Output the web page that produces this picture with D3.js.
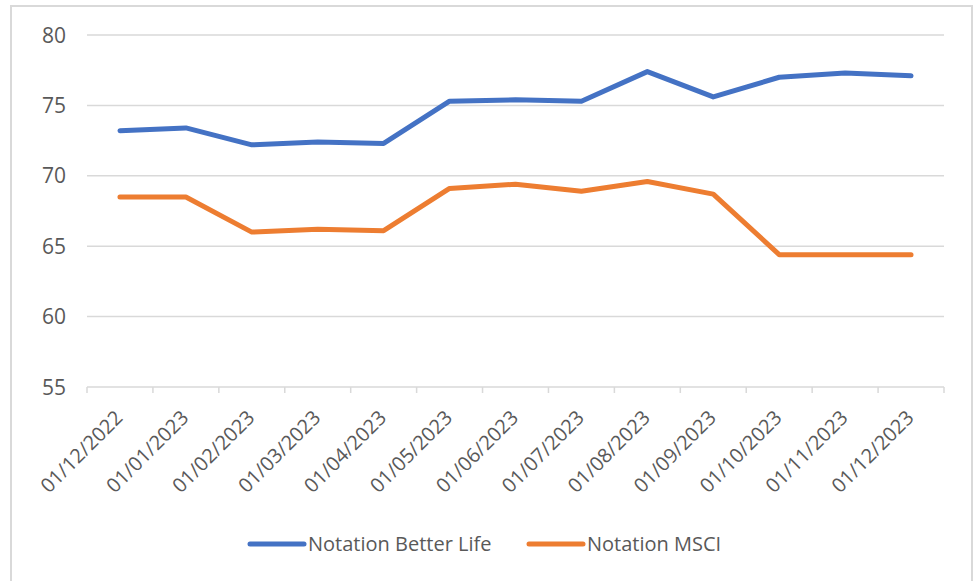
<!DOCTYPE html>
<html>
<head>
<meta charset="utf-8">
<script src="https://cdn.jsdelivr.net/npm/d3@7"></script>
<style>
  body { margin: 0; background: #fff; }
  text { font-family: "Open Sans", "Liberation Sans", sans-serif; fill: #595959; }
</style>
</head>
<body>
<div id="chart-area"></div>
<script>
let dates = ["01/12/2022", "01/01/2023", "01/02/2023", "01/03/2023", "01/04/2023", "01/05/2023",
  "01/06/2023", "01/07/2023", "01/08/2023", "01/09/2023", "01/10/2023", "01/11/2023", "01/12/2023"];
let betterLife = [73.2, 73.4, 72.2, 72.4, 72.3, 75.3, 75.4, 75.3, 77.4, 75.6, 77.0, 77.3, 77.1];
let msci = [68.5, 68.5, 66.0, 66.2, 66.1, 69.1, 69.4, 68.9, 69.6, 68.7, 64.4, 64.4, 64.4];
let yTicks = [55, 60, 65, 70, 75, 80];

let series = [
  { name: "Notation Better Life", values: betterLife, color: "#4472C4" },
  { name: "Notation MSCI", values: msci, color: "#ED7D31" }
];

let width = 974,
height = 581;

let svg = d3.select("#chart-area").append("svg")
  .attr("width", width)
  .attr("height", height);

// chart border
svg.append("rect")
  .attr("x", 11).attr("y", 6)
  .attr("width", 961).attr("height", 600)
  .attr("fill", "none")
  .attr("stroke", "#d9d9d9")
  .attr("stroke-width", 2);

let x = d3.scaleBand()
  .domain(dates)
  .range([87, 944]);

let y = d3.scaleLinear()
  .domain([55, 80])
  .range([387, 35]);

// gridlines
svg.selectAll(".grid")
  .data(yTicks.slice(1))
  .enter().append("line")
  .attr("x1", 87).attr("x2", 944)
  .attr("y1", d => y(d)).attr("y2", d => y(d))
  .attr("stroke", "#d9d9d9")
  .attr("stroke-width", 1.5);

// y labels
svg.selectAll(".ylab")
  .data(yTicks)
  .enter().append("text")
  .attr("x", 66)
  .attr("y", d => y(d))
  .attr("dy", "0.36em")
  .attr("text-anchor", "end")
  .style("font-size", "21px")
  .text(d => d);

// x axis line + ticks between categories
svg.append("line")
  .attr("x1", 87).attr("x2", 944)
  .attr("y1", y(55)).attr("y2", y(55))
  .attr("stroke", "#d9d9d9")
  .attr("stroke-width", 1.5);

let tickPos = dates.map(d => x(d)).concat([x(dates[dates.length - 1]) + x.bandwidth()]);
svg.selectAll(".tick")
  .data(tickPos)
  .enter().append("line")
  .attr("x1", d => d).attr("x2", d => d)
  .attr("y1", y(55)).attr("y2", y(55) + 6)
  .attr("stroke", "#d9d9d9")
  .attr("stroke-width", 1.5);

// x labels rotated
svg.selectAll(".xlab")
  .data(dates)
  .enter().append("text")
  .attr("text-anchor", "end")
  .style("font-size", "20px")
  .attr("transform", d => "translate(" + (x(d) + x.bandwidth() / 2 + 4) + "," + (y(55) + 32) + ") rotate(-45)")
  .text(d => d);

// lines
let line = d3.line()
  .x((d, i) => x(dates[i]) + x.bandwidth() / 2)
  .y(d => y(d));

svg.selectAll(".series")
  .data(series)
  .enter().append("path")
  .attr("d", d => line(d.values))
  .attr("fill", "none")
  .attr("stroke", d => d.color)
  .attr("stroke-width", 5)
  .attr("stroke-linecap", "round")
  .attr("stroke-linejoin", "round");

// legend
let legendX = [250, 529];
let legend = svg.selectAll(".legend")
  .data(series)
  .enter().append("g")
  .attr("transform", (d, i) => "translate(" + legendX[i] + ",544)");

legend.append("line")
  .attr("x1", 0).attr("x2", 54)
  .attr("stroke", d => d.color)
  .attr("stroke-width", 5)
  .attr("stroke-linecap", "round");

legend.append("text")
  .attr("x", 58)
  .attr("dy", "0.36em")
  .style("font-size", "20px")
  .text(d => d.name);
</script>
</body>
</html>
